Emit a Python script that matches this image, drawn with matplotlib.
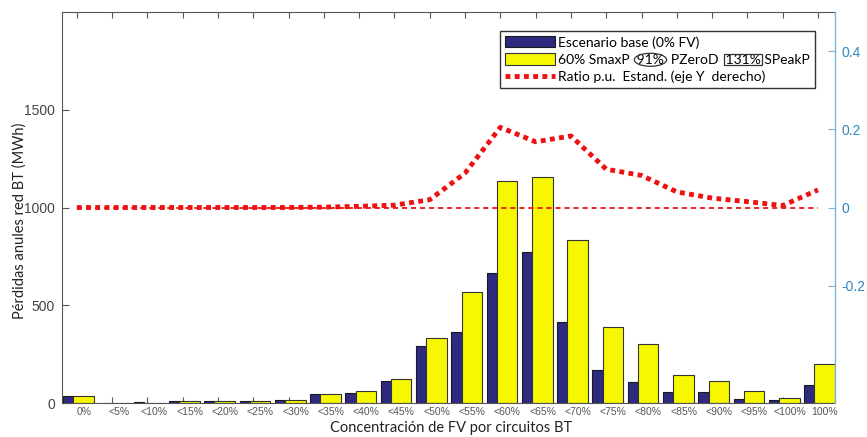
import matplotlib
matplotlib.use("Agg")
import matplotlib.pyplot as plt
import matplotlib.transforms as mtransforms
from matplotlib.patches import Ellipse, Rectangle
import numpy as np

# categorias (concentracion de FV por circuito)
categorias = ["0%", "<5%", "<10%", "<15%", "<20%", "<25%", "<30%", "<35%", "<40%",
              "<45%", "<50%", "<55%", "<60%", "<65%", "<70%", "<75%", "<80%",
              "<85%", "<90%", "<95%", "<100%", "100%"]

# perdidas anuales (MWh)
base = [38, 2, 3, 9, 12, 8, 14, 44, 53, 115, 292, 361, 663, 770, 412, 168, 106,
        58, 55, 20, 17, 91]
smaxp = [38, 2, 2, 8, 8, 8, 14, 44, 62, 123, 332, 569, 1134, 1154, 833, 390, 301,
         142, 113, 60, 27, 202]

# ratio p.u. (eje derecho)
ratio = [0.0, 0.0, 0.0, 0.0, 0.0, 0.0, 0.0, 0.001, 0.003, 0.006, 0.02, 0.088,
         0.205, 0.168, 0.183, 0.098, 0.082, 0.04, 0.024, 0.015, 0.005, 0.045]

c_azul = "#2E2A80"
c_amar = "#F7F700"
c_rojo = "#EE1111"
c_eje2 = "#2F86C0"
c_gris = "#555555"

fig = plt.figure(figsize=(8.67, 4.37), dpi=100)
ax = fig.add_axes([0.0715, 0.0778, 0.8915, 0.8947])

x = np.arange(len(categorias))
ax.bar(x - 0.39, base, width=0.29, align="edge", color=c_azul, edgecolor="#1a1a1a",
       linewidth=0.8, label="Escenario base (0% FV)", zorder=2)
ax.bar(x - 0.10, smaxp, width=0.58, align="edge", color=c_amar, edgecolor="#333333",
       linewidth=0.8, label="60% SmaxP  91%  PZeroD  131% SPeakP", zorder=2)

ax.set_xlim(-0.42, 21.48)
ax.set_ylim(0, 2000)
ax.set_yticks([0, 500, 1000, 1500])
ax.set_xticks(x)
ax.set_xticklabels(categorias)
ax.tick_params(axis="x", direction="in", top=True, length=4, pad=3, labelsize=7.5,
               labelcolor="#555555", color=c_gris, labelfontfamily="Liberation Sans")
ax.tick_params(axis="y", direction="in", right=True, length=5, pad=5, labelsize=10,
               labelcolor="#444444", color=c_gris, labelfontfamily="Liberation Sans")
off = mtransforms.ScaledTranslation(5 / 72, 0, fig.dpi_scale_trans)
for lab in ax.get_xticklabels():
    lab.set_transform(lab.get_transform() + off)
for s in ["left", "top", "bottom"]:
    ax.spines[s].set_color(c_gris)
    ax.spines[s].set_linewidth(0.8)
ax.spines["right"].set_visible(False)

ax.set_ylabel("Pérdidas anules red BT (MWh)", fontfamily="Lato", fontsize=10.5,
              color="#222222")
ax.yaxis.set_label_coords(-0.046, 0.465)
ax.set_xlabel("Concentración de FV por circuitos BT", fontfamily="Lato",
              fontsize=10.5, color="#222222")
ax.xaxis.set_label_coords(0.503, -0.045)

ax2 = ax.twinx()
ax2.set_position(ax.get_position())
ax2.set_ylim(-0.5, 0.5)
ax2.set_yticks([-0.2, 0, 0.2, 0.4])
ax2.set_yticklabels(["-0.2", "0", "0.2", "0.4"])
ax2.tick_params(axis="y", direction="in", length=5, pad=5, labelsize=10,
                labelcolor=c_eje2, color="#7FB4DA", labelfontfamily="Liberation Sans")
for s in ["left", "top", "bottom"]:
    ax2.spines[s].set_visible(False)
ax2.spines["right"].set_color("#7FB4DA")
ax2.spines["right"].set_linewidth(1.0)

ax2.plot([x[0], x[-1]], [0, 0], color=c_rojo, lw=1.3, linestyle=(0, (2.8, 2.2)))
linea, = ax2.plot(x, ratio, color=c_rojo, lw=3.5, linestyle=(0, (1, 0.9)),
                  dash_capstyle="butt", label="Ratio p.u.  Estand. (eje Y  derecho)")

h1, l1 = ax.get_legend_handles_labels()
leg = ax2.legend(h1 + [linea], l1 + [linea.get_label()], loc="upper right",
                 bbox_to_anchor=(0.974, 0.951), fancybox=False, framealpha=1,
                 edgecolor="#333333", prop={"family": "Lato", "size": 10},
                 handlelength=3.6, handleheight=0.85, handletextpad=0.25,
                 labelspacing=0.35, borderpad=0.35, borderaxespad=0)
leg.get_frame().set_linewidth(1.0)

# marcas (ovalo y recuadro) sobre los porcentajes de la segunda etiqueta
fig.canvas.draw()
r = fig.canvas.get_renderer()
t = leg.get_texts()[1]
bb = t.get_window_extent(r)
fp = t.get_fontproperties()
texto = t.get_text()


def ancho(s):
    return r.get_text_width_height_descent(s, fp, ismath=False)[0]


W, H = fig.bbox.width, fig.bbox.height
yc = (bb.y0 + bb.y1) / 2
for sub, forma in [("91%", "ovalo"), ("131%", "caja")]:
    i = texto.index(sub)
    xa = bb.x0 + ancho(texto[:i])
    xb = xa + ancho(sub)
    if forma == "ovalo":
        p = Ellipse(((xa + xb) / 2 / W, yc / H), (xb - xa + 5) / W, (bb.height + 1) / H,
                    transform=fig.transFigure, fill=False, edgecolor="#333333", lw=0.9)
    else:
        p = Rectangle(((xa - 1.5) / W, (bb.y0 + 1) / H), (xb - xa + 2.5) / W,
                      (bb.height - 1) / H, transform=fig.transFigure, fill=False,
                      edgecolor="#333333", lw=0.9)
    fig.add_artist(p)

fig.savefig("out.png", dpi=100)
